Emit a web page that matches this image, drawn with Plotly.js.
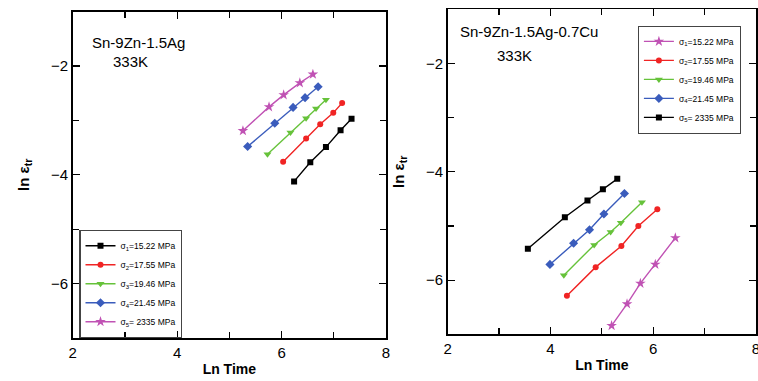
<!DOCTYPE html>
<html>
<head>
<meta charset="utf-8">
<script src="https://cdn.plot.ly/plotly-3.0.1.min.js"></script>
<style>html,body{margin:0;padding:0;background:#fff}#chart{width:758px;height:381px}</style>
</head>
<body>
<div id="chart"></div>
<script>
// ---- Left panel: Sn-9Zn-1.5Ag, 333K ----
const leftNames = ["σ<sub>1</sub>=15.22 MPa","σ<sub>2</sub>=17.55 MPa","σ<sub>3</sub>=19.46 MPa","σ<sub>4</sub>=21.45 MPa","σ<sub>5</sub>= 2335 MPa"];
const leftX1 = [6.24, 6.55, 6.85, 7.13, 7.34];
const leftY1 = [-4.12, -3.77, -3.49, -3.18, -2.97];
const leftX2 = [6.03, 6.47, 6.74, 6.99, 7.16];
const leftY2 = [-3.76, -3.33, -3.07, -2.86, -2.68];
const leftX3 = [5.73, 6.17, 6.47, 6.66, 6.85];
const leftY3 = [-3.62, -3.22, -2.96, -2.78, -2.62];
const leftX4 = [5.35, 5.87, 6.22, 6.45, 6.70];
const leftY4 = [-3.48, -3.05, -2.76, -2.58, -2.38];
const leftX5 = [5.26, 5.76, 6.04, 6.35, 6.60];
const leftY5 = [-3.19, -2.75, -2.53, -2.31, -2.15];

// ---- Right panel: Sn-9Zn-1.5Ag-0.7Cu, 333K ----
const rightNames = ["σ<sub>1</sub>=15.22 MPa","σ<sub>2</sub>=17.55 MPa","σ<sub>3</sub>=19.46 MPa","σ<sub>4</sub>=21.45 MPa","σ<sub>5</sub>= 2335 MPa"];
const rightX1 = [5.19, 5.49, 5.75, 6.04, 6.43];
const rightY1 = [-6.84, -6.44, -6.06, -5.71, -5.22];
const rightX2 = [4.32, 4.88, 5.38, 5.71, 6.08];
const rightY2 = [-6.29, -5.76, -5.37, -5.00, -4.69];
const rightX3 = [4.26, 4.85, 5.17, 5.37, 5.78];
const rightY3 = [-5.91, -5.35, -5.11, -4.94, -4.56];
const rightX4 = [3.99, 4.45, 4.76, 5.04, 5.44];
const rightY4 = [-5.71, -5.32, -5.07, -4.78, -4.40];
const rightX5 = [3.56, 4.28, 4.72, 5.02, 5.30];
const rightY5 = [-5.42, -4.84, -4.53, -4.32, -4.13];

const xTickVals = [2, 4, 6, 8];
const yTickVals = [-6, -4, -2];

const C = {black:"#000000", red:"#f02424", green:"#66c23a", blue:"#3a5cbc", magenta:"#c052b4"};
const FONT = "Liberation Sans, Arial, sans-serif";

function tr(x, y, name, color, symbol, xa, ya, leg, msize) {
  return {
    x: x, y: y, name: name, type: "scatter", mode: "lines+markers",
    xaxis: xa, yaxis: ya, legend: leg,
    line: {color: color, width: 1.4},
    marker: {color: color, symbol: symbol, size: msize || 6, line: {width: 0}}
  };
}

const data = [
  tr(leftX1, leftY1, leftNames[0], C.black, "square", "x", "y", "legend"),
  tr(leftX2, leftY2, leftNames[1], C.red, "circle", "x", "y", "legend"),
  tr(leftX3, leftY3, leftNames[2], C.green, "triangle-down", "x", "y", "legend", 7),
  tr(leftX4, leftY4, leftNames[3], C.blue, "diamond", "x", "y", "legend", 7),
  tr(leftX5, leftY5, leftNames[4], C.magenta, "star", "x", "y", "legend", 8),
  tr(rightX1, rightY1, rightNames[0], C.magenta, "star", "x2", "y2", "legend2", 8),
  tr(rightX2, rightY2, rightNames[1], C.red, "circle", "x2", "y2", "legend2"),
  tr(rightX3, rightY3, rightNames[2], C.green, "triangle-down", "x2", "y2", "legend2", 7),
  tr(rightX4, rightY4, rightNames[3], C.blue, "diamond", "x2", "y2", "legend2", 7),
  tr(rightX5, rightY5, rightNames[4], C.black, "square", "x2", "y2", "legend2")
];

function xaxis(domain, anchor) {
  return {
    domain: domain, anchor: anchor, range: [2, 8], autorange: false,
    tickvals: xTickVals, ticks: "inside", ticklen: 7, tickwidth: 1.2, tickcolor: "#000",
    minor: {dtick: 1, tick0: 0, ticks: "inside", ticklen: 6, tickwidth: 1.2, tickcolor: "#000", showgrid: false},
    showline: true, linecolor: "#000", linewidth: 1.5, mirror: "allticks",
    showgrid: false, zeroline: false, automargin: false, ticklabeloverflow: "allow",
    tickfont: {family: FONT, size: 15, color: "#000"},
    title: {text: "<b>Ln Time</b>", font: {family: FONT, size: 14, color: "#000"}, standoff: 4}
  };
}
function yaxis(domain, anchor) {
  return {
    domain: domain, anchor: anchor, range: [-7, -1], autorange: false,
    tickvals: yTickVals, ticks: "inside", ticklen: 7, tickwidth: 1.2, tickcolor: "#000",
    minor: {dtick: 1, tick0: 0, ticks: "inside", ticklen: 6, tickwidth: 1.2, tickcolor: "#000", showgrid: false},
    showline: true, linecolor: "#000", linewidth: 1.5, mirror: "allticks",
    showgrid: false, zeroline: false, automargin: false,
    tickfont: {family: FONT, size: 15, color: "#000"},
    title: {text: "<b>ln ε<sub>tr</sub></b>", font: {family: FONT, size: 15, color: "#000"}, standoff: 18}
  };
}

const legendBase = {
  bgcolor: "rgba(255,255,255,0)", bordercolor: "#444", borderwidth: 1.2,
  font: {family: FONT, size: 8.5, color: "#000"},
  itemwidth: 30, tracegroupgap: 0, xanchor: "left", yanchor: "top",
  xref: "paper", yref: "paper"
};

const layout = {
  width: 758, height: 381,
  margin: {l: 0, r: 0, t: 0, b: 0},
  paper_bgcolor: "#fff", plot_bgcolor: "#fff",
  showlegend: true,
  xaxis: xaxis([72.7/758, 386/758], "y"),
  yaxis: yaxis([1 - 338/381, 1 - 11.7/381], "x"),
  xaxis2: xaxis([447.7/758, 756/758], "y2"),
  yaxis2: yaxis([1 - 334.3/381, 1 - 9.3/381], "x2"),
  legend: Object.assign({}, legendBase, {x: 79.3/758, y: 1 - 230/381}),
  legend2: Object.assign({}, legendBase, {x: 637.7/758, y: 1 - 25.7/381}),
  annotations: [
    {text: "Sn-9Zn-1.5Ag", xref: "paper", yref: "paper", x: 90/758, y: 1 - 42/381, xanchor: "left", yanchor: "middle", showarrow: false, font: {family: FONT, size: 15, color: "#000"}},
    {text: "333K", xref: "paper", yref: "paper", x: 111/758, y: 1 - 62/381, xanchor: "left", yanchor: "middle", showarrow: false, font: {family: FONT, size: 15, color: "#000"}},
    {text: "Sn-9Zn-1.5Ag-0.7Cu", xref: "paper", yref: "paper", x: 458/758, y: 1 - 31/381, xanchor: "left", yanchor: "middle", showarrow: false, font: {family: FONT, size: 15, color: "#000"}},
    {text: "333K", xref: "paper", yref: "paper", x: 495/758, y: 1 - 55/381, xanchor: "left", yanchor: "middle", showarrow: false, font: {family: FONT, size: 15, color: "#000"}}
  ]
};

Plotly.newPlot("chart", data, layout, {displayModeBar: false, staticPlot: true});
</script>
</body>
</html>
